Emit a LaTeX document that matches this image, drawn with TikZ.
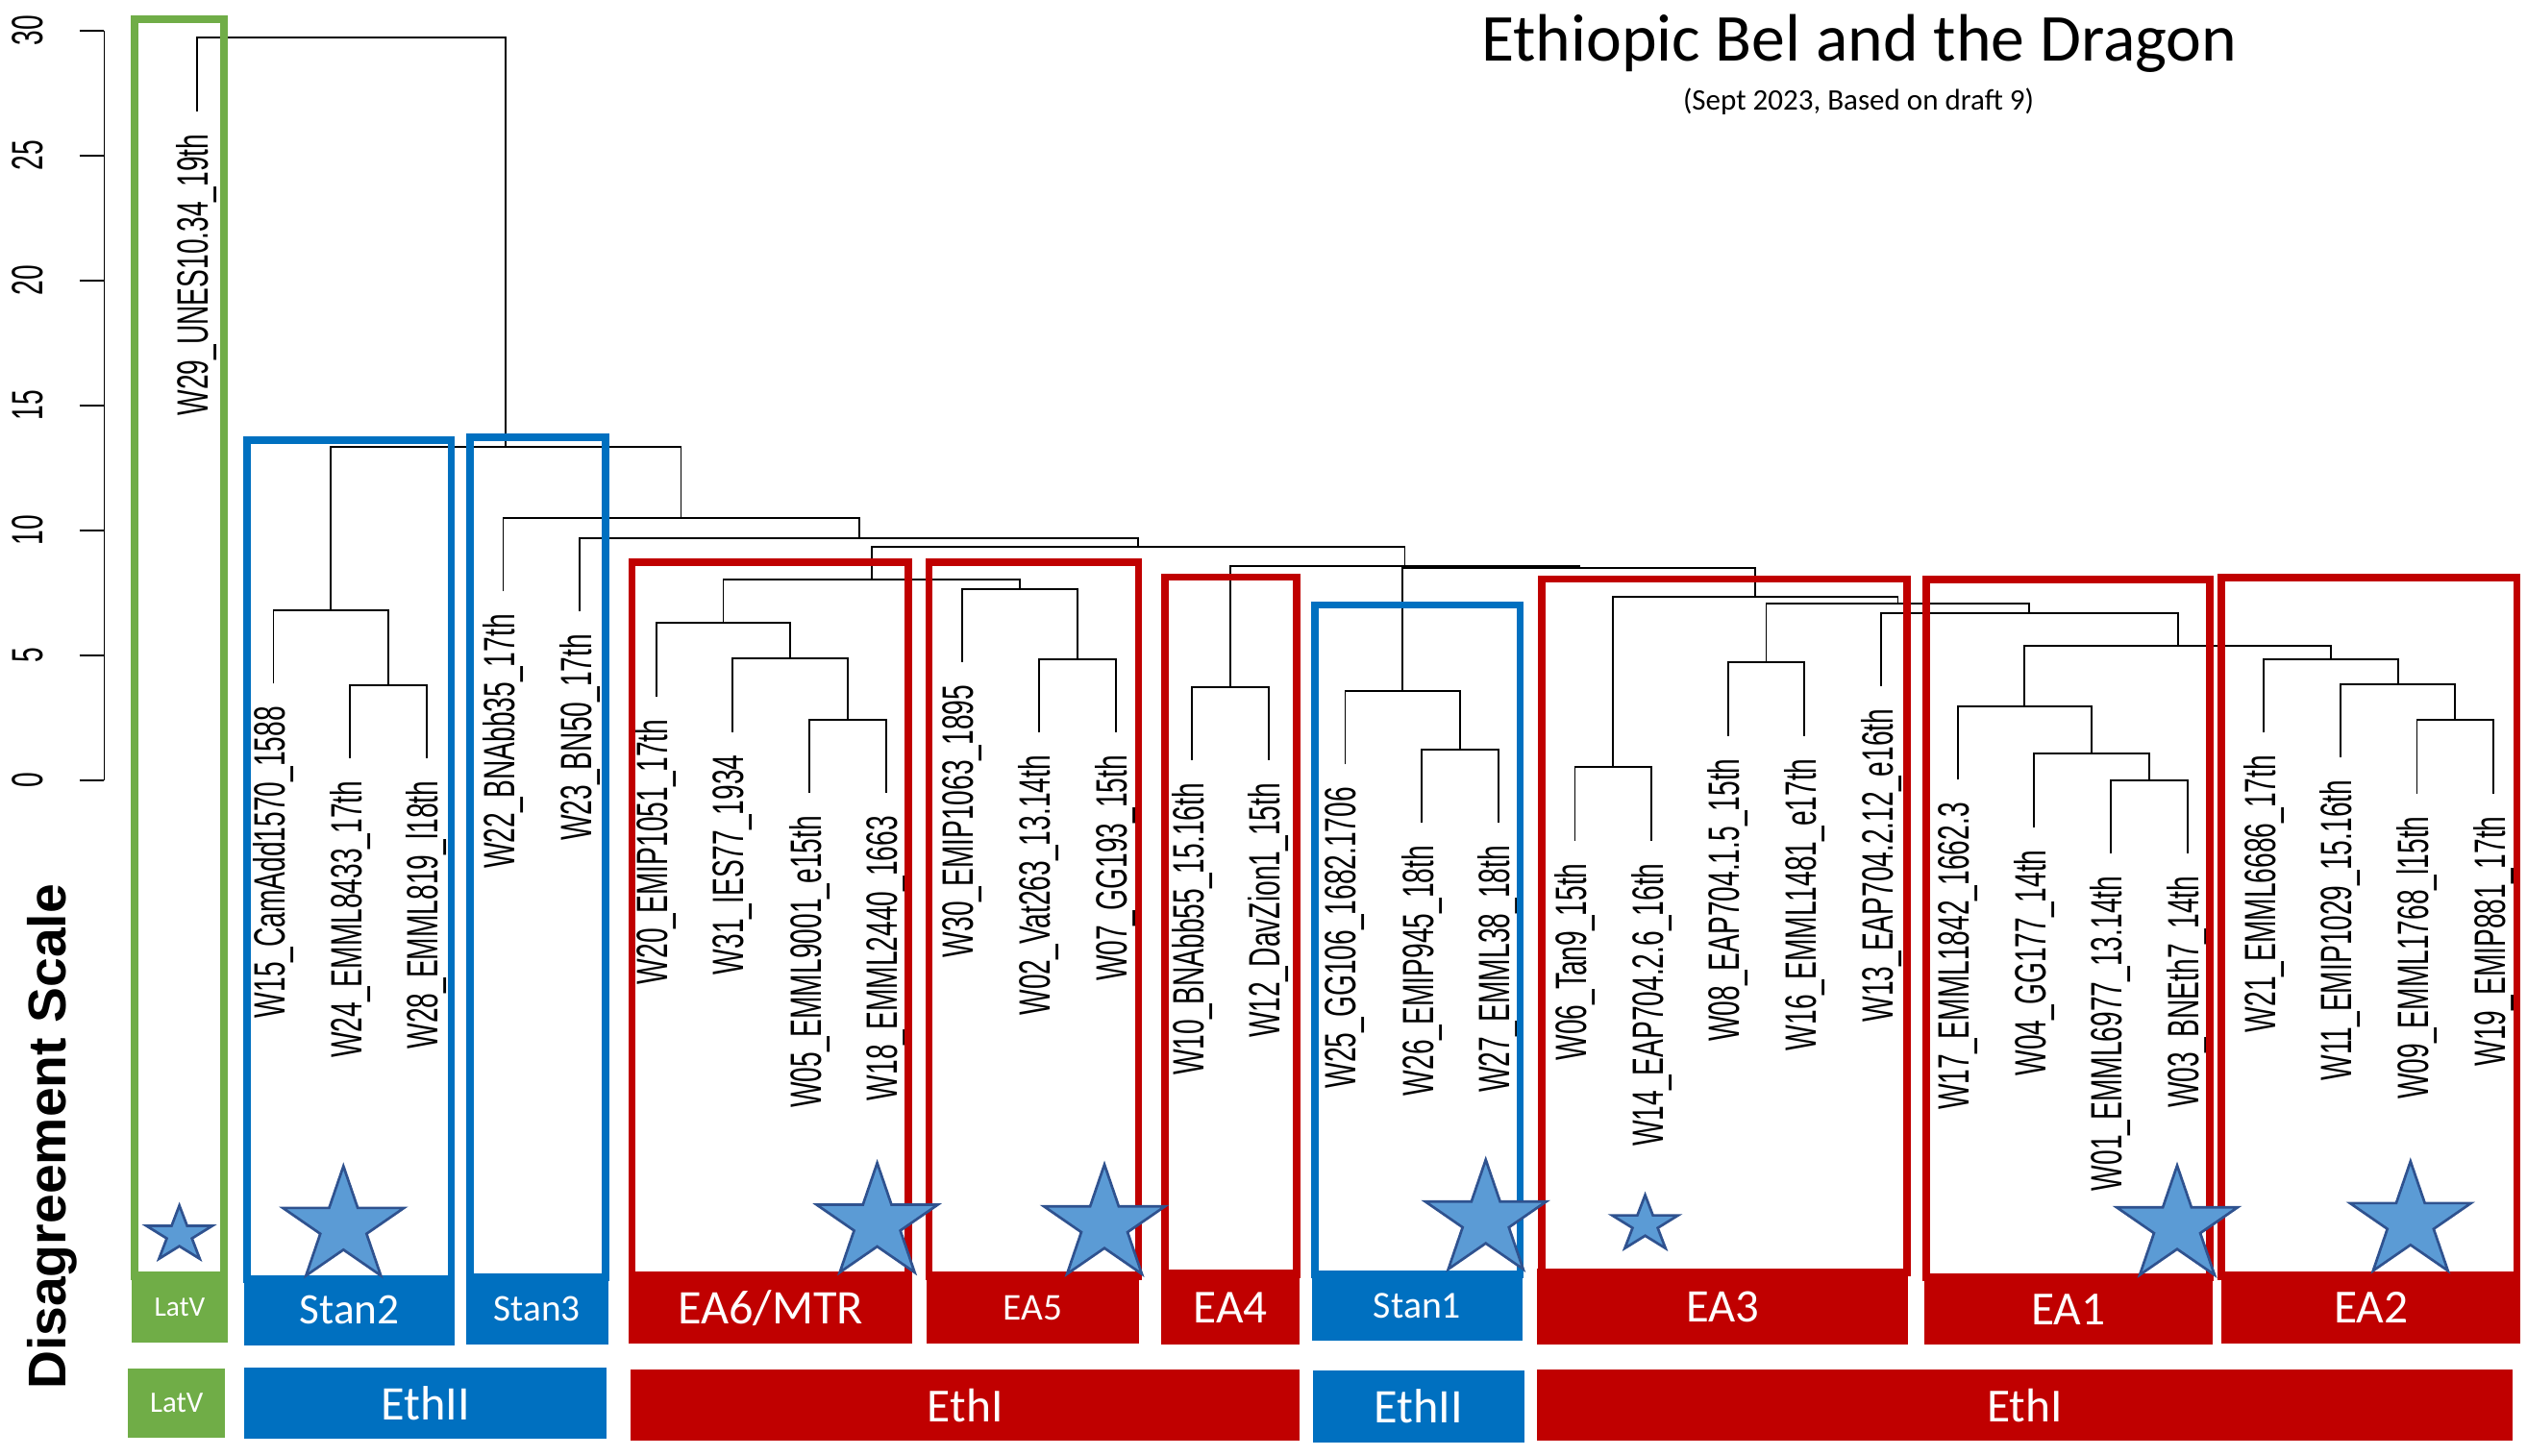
\documentclass[tikz,border=0pt]{standalone}
\usepackage{fontspec}
\usepackage{graphicx}
\setmainfont{Liberation Sans}
\newfontfamily\carl{Carlito}
\definecolor{cred}{HTML}{C00000}
\definecolor{cblue}{HTML}{0070C0}
\definecolor{cgreen}{HTML}{70AD47}
\definecolor{sfill}{HTML}{5B9BD5}
\definecolor{sline}{HTML}{2F528F}
\newcommand{\leaffont}{\fontsize{16.8}{18}\selectfont}
\newcommand{\lab}[1]{\scalebox{1}[1.62]{#1}}
\newcommand{\leaf}[4]{\coordinate (#1) at (#2,#3);\node[leaflab] (t#1) at (#2,#3+14) {\lab{#4}};}
\newcommand{\mystar}[4]{\begin{scope}[shift={(#1,#2+#3*#4)},yscale=-#4]
\draw[starsty] (90:#3) -- (126:{0.382*#3}) -- (162:#3) -- (198:{0.382*#3}) -- (234:#3) -- (270:{0.382*#3}) -- (306:#3) -- (342:{0.382*#3}) -- (18:#3) -- (54:{0.382*#3}) -- cycle;
\end{scope}}
\tikzset{
  dend/.style={line width=1.1pt, black},
  leaflab/.style={rotate=90, anchor=east, inner sep=0pt, font=\leaffont},
  frame/.style={line width=4.6pt},
  lbox/.style={inner sep=0pt, text=white, anchor=center},
  starsty/.style={fill=sfill, draw=sline, line width=1.6pt, line join=miter},
}
\begin{document}
\begin{tikzpicture}[x=1pt,y=-1pt]
\useasboundingbox (0,0) rectangle (1568,903);
% leaves
\leaf{W29}{122.2}{69.0}{W29\_UNES10.34\_19th}
\leaf{W15}{169.7}{424.2}{W15\_CamAdd1570\_1588}
\leaf{W24}{217.2}{470.5}{W24\_EMML8433\_17th}
\leaf{W28}{264.7}{470.5}{W28\_EMML819\_l18th}
\leaf{W22}{312.2}{367.0}{W22\_BNAbb35\_17th}
\leaf{W23}{359.7}{379.5}{W23\_BN50\_17th}
\leaf{W20}{407.2}{432.2}{W20\_EMIP1051\_17th}
\leaf{W31}{454.7}{454.2}{W31\_IES77\_1934}
\leaf{W05}{502.2}{492.2}{W05\_EMML9001\_e15th}
\leaf{W18}{549.7}{492.2}{W18\_EMML2440\_1663}
\leaf{W30}{597.2}{410.9}{W30\_EMIP1063\_1895}
\leaf{W02}{644.7}{454.6}{W02\_Vat263\_13.14th}
\leaf{W07}{692.2}{454.6}{W07\_GG193\_15th}
\leaf{W10}{739.7}{471.9}{W10\_BNAbb55\_15.16th}
\leaf{W12}{787.2}{471.9}{W12\_DavZion1\_15th}
\leaf{W25}{834.7}{474.3}{W25\_GG106\_1682.1706}
\leaf{W26}{882.2}{510.7}{W26\_EMIP945\_18th}
\leaf{W27}{929.7}{510.7}{W27\_EMML38\_18th}
\leaf{W06}{977.2}{521.6}{W06\_Tan9\_15th}
\leaf{W14}{1024.7}{521.6}{W14\_EAP704.2.6\_16th}
\leaf{W08}{1072.2}{456.6}{W08\_EAP704.1.5\_15th}
\leaf{W16}{1119.7}{456.6}{W16\_EMML1481\_e17th}
\leaf{W13}{1167.2}{425.8}{W13\_EAP704.2.12\_e16th}
\leaf{W17}{1214.7}{483.9}{W17\_EMML1842\_1662.3}
\leaf{W04}{1262.2}{513.3}{W04\_GG177\_14th}
\leaf{W01}{1309.7}{529.6}{W01\_EMML6977\_13.14th}
\leaf{W03}{1357.2}{529.6}{W03\_BNEth7\_14th}
\leaf{W21}{1404.7}{454.6}{W21\_EMML6686\_17th}
\leaf{W11}{1452.2}{469.9}{W11\_EMIP1029\_15.16th}
\leaf{W09}{1499.7}{492.4}{W09\_EMML1768\_l15th}
\leaf{W19}{1547.2}{492.4}{W19\_EMIP881\_17th}
% merge points
\coordinate (ms2a) at (240.95,425.0);
\coordinate (ms2) at (205.325,378.7);
\coordinate (mS) at (525.95,446.7);
\coordinate (mR) at (490.325,408.7);
\coordinate (mQ) at (448.76,386.7);
\coordinate (mU) at (668.45,409.1);
\coordinate (mT) at (632.825,365.4);
\coordinate (mP) at (540.79,359.8);
\coordinate (mEA4) at (763.45,426.4);
\coordinate (mE) at (905.95,465.2);
\coordinate (mST1) at (870.325,428.8);
\coordinate (mX1) at (1000.95,476.1);
\coordinate (mX2) at (1095.95,411.1);
\coordinate (mL) at (1333.45,484.1);
\coordinate (mK) at (1297.825,467.8);
\coordinate (mJ) at (1256.26,438.4);
\coordinate (mO) at (1523.45,446.9);
\coordinate (mN) at (1487.825,424.4);
\coordinate (mM) at (1446.26,409.1);
\coordinate (mI) at (1351.26,401.0);
\coordinate (mH) at (1259.23,380.3);
\coordinate (mG) at (1177.59,374.7);
\coordinate (mF) at (1089.27,370.6);
\coordinate (mD) at (979.80,352.5);
\coordinate (mC) at (871.63,351.3);
\coordinate (mB) at (706.21,339.6);
\coordinate (mA) at (532.96,334.0);
\coordinate (mN2) at (422.58,321.5);
\coordinate (mN1) at (313.95,277.3);
\coordinate (mroot) at (218.08,23.5);
% connectors
\draw[dend] (W24) |- (ms2a) -| (W28);
\draw[dend] (W15) |- (ms2) -| (ms2a);
\draw[dend] (W05) |- (mS) -| (W18);
\draw[dend] (W31) |- (mR) -| (mS);
\draw[dend] (W20) |- (mQ) -| (mR);
\draw[dend] (W02) |- (mU) -| (W07);
\draw[dend] (W30) |- (mT) -| (mU);
\draw[dend] (mQ) |- (mP) -| (mT);
\draw[dend] (W10) |- (mEA4) -| (W12);
\draw[dend] (W26) |- (mE) -| (W27);
\draw[dend] (W25) |- (mST1) -| (mE);
\draw[dend] (W06) |- (mX1) -| (W14);
\draw[dend] (W08) |- (mX2) -| (W16);
\draw[dend] (W01) |- (mL) -| (W03);
\draw[dend] (W04) |- (mK) -| (mL);
\draw[dend] (W17) |- (mJ) -| (mK);
\draw[dend] (W09) |- (mO) -| (W19);
\draw[dend] (W11) |- (mN) -| (mO);
\draw[dend] (W21) |- (mM) -| (mN);
\draw[dend] (mJ) |- (mI) -| (mM);
\draw[dend] (W13) |- (mH) -| (mI);
\draw[dend] (mX2) |- (mG) -| (mH);
\draw[dend] (mX1) |- (mF) -| (mG);
\draw[dend] (mST1) |- (mD) -| (mF);
\draw[dend] (mEA4) |- (mC) -| (mD);
\draw[dend] (mP) |- (mB) -| (mC);
\draw[dend] (W23) |- (mA) -| (mB);
\draw[dend] (W22) |- (mN2) -| (mA);
\draw[dend] (ms2) |- (mN1) -| (mN2);
\draw[dend] (W29) |- (mroot) -| (mN1);
% axis
\coordinate (ax0) at (64.7,484.2);
\coordinate (ax30) at (64.7,18.9);
\draw[dend] (ax30) -- (ax0);
\foreach \h in {0,5,...,30}{
  \draw[dend] (49.3,484.2-15.51*\h) -- (64.7,484.2-15.51*\h);
  \node[rotate=90, inner sep=0pt, font=\leaffont] (yl\h) at (17.3,484.2-15.51*\h) {\lab{\h}};
}
\node[rotate=90, anchor=base, inner sep=0pt, font={\bfseries\fontsize{33}{36}\selectfont}] (ylab) at (41,705.5) {Disagreement Scale};
% frames
\draw[frame, cgreen] (83.5,12.1) rectangle (139,792);
\draw[frame, cblue] (153.1,273) rectangle (280,794);
\draw[frame, cblue] (291.5,271.4) rectangle (375.8,793);
\draw[frame, cred] (392.1,348.7) rectangle (563.8,792);
\draw[frame, cred] (576.4,348.7) rectangle (706.4,792);
\draw[frame, cred] (722.8,358.1) rectangle (804.4,791);
\draw[frame, cblue] (815.8,375.5) rectangle (943.2,791);
\draw[frame, cred] (956.5,359.4) rectangle (1183.3,790);
\draw[frame, cred] (1195.1,359.5) rectangle (1371.3,793);
\draw[frame, cred] (1378.4,358.3) rectangle (1561.8,792);
% cluster label boxes
\node[lbox, fill=cgreen, minimum width=60pt, minimum height=43.7pt, font={\carl\fontsize{17.5}{20}\selectfont}] (bLatV) at (111.5,811.15) {LatV};
\node[lbox, fill=cblue, minimum width=130.9pt, minimum height=43.7pt, font={\carl\fontsize{27}{30}\selectfont}] (bStan2) at (216.95,813.15) {Stan2};
\node[lbox, fill=cblue, minimum width=88.3pt, minimum height=44.3pt, font={\carl\fontsize{23.4}{26}\selectfont}] (bStan3) at (333.25,812.45) {Stan3};
\node[lbox, fill=cred, minimum width=175.7pt, minimum height=44.7pt, font={\carl\fontsize{30}{33}\selectfont}] (bEA6) at (478.05,811.65) {EA6/MTR};
\node[lbox, fill=cred, minimum width=131.4pt, minimum height=44.7pt, font={\carl\fontsize{23.5}{26}\selectfont}] (bEA5) at (640.8,811.65) {EA5};
\node[lbox, fill=cred, minimum width=86.2pt, minimum height=46.7pt, font={\carl\fontsize{29.4}{32}\selectfont}] (bEA4) at (763.5,811.25) {EA4};
\node[lbox, fill=cblue, minimum width=130.5pt, minimum height=43.7pt, font={\carl\fontsize{23.7}{26}\selectfont}] (bStan1) at (879.45,810.15) {Stan1};
\node[lbox, fill=cred, minimum width=230pt, minimum height=47.3pt, font={\carl\fontsize{29}{32}\selectfont}] (bEA3) at (1068.8,810.95) {EA3};
\node[lbox, fill=cred, minimum width=179pt, minimum height=44.3pt, font={\carl\fontsize{29.5}{32}\selectfont}] (bEA1) at (1283.4,812.45) {EA1};
\node[lbox, fill=cred, minimum width=185.6pt, minimum height=44.3pt, font={\carl\fontsize{29.5}{32}\selectfont}] (bEA2) at (1471.2,811.45) {EA2};
% group bars
\node[lbox, fill=cgreen, minimum width=60.1pt, minimum height=42.6pt, font={\carl\fontsize{18.4}{20}\selectfont}] (gLatV) at (109.65,870.8) {LatV};
\node[lbox, fill=cblue, minimum width=224.9pt, minimum height=44.2pt, font={\carl\fontsize{30}{33}\selectfont}] (gEthIIa) at (263.95,871) {EthII};
\node[lbox, fill=cred, minimum width=415.3pt, minimum height=44.3pt, font={\carl\fontsize{29.5}{32}\selectfont}] (gEthIa) at (598.95,872.05) {EthI};
\node[lbox, fill=cblue, minimum width=131pt, minimum height=44.5pt, font={\carl\fontsize{30}{33}\selectfont}] (gEthIIb) at (880.2,872.75) {EthII};
\node[lbox, fill=cred, minimum width=605.1pt, minimum height=44.3pt, font={\carl\fontsize{29.5}{32}\selectfont}] (gEthIb) at (1256.35,872.05) {EthI};
% stars
\mystar{111.3}{748.1}{21.5}{0.85}
\mystar{213.1}{723.7}{39.5}{0.95}
\mystar{544.3}{721.7}{39.5}{0.95}
\mystar{685.3}{722.7}{39.5}{0.95}
\mystar{921.9}{719.7}{39.5}{0.95}
\mystar{1020.8}{741.6}{21.5}{0.85}
\mystar{1350.9}{723.3}{39.5}{0.95}
\mystar{1495.7}{720.7}{39.5}{0.95}
% title
\node[font={\carl\fontsize{41.6}{45}\selectfont}, anchor=base, inner sep=0pt] (title) at (1153.7,37.8) {Ethiopic Bel and the Dragon};
\node[font={\carl\fontsize{18.5}{20}\selectfont}, anchor=base, inner sep=0pt] (subtitle) at (1153.2,68) {(Sept 2023, Based on draft 9)};
\end{tikzpicture}
\end{document}
